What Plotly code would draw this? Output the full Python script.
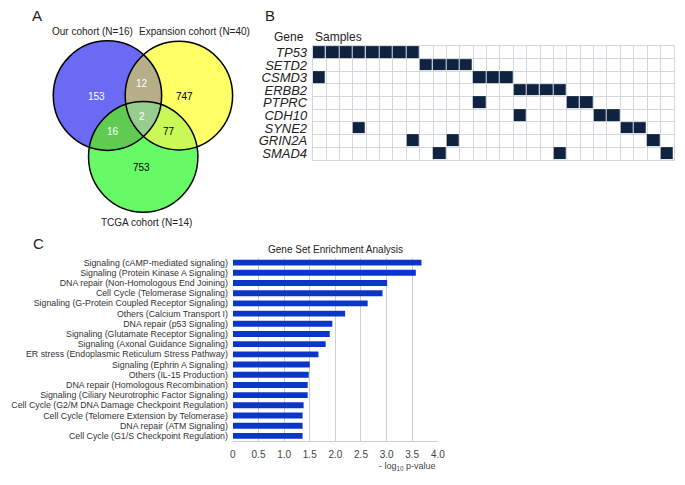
import numpy as np
import plotly.graph_objects as go

# ---------------- data ----------------
venn_labels = ["Our cohort (N=16)", "Expansion cohort (N=40)", "TCGA cohort (N=14)"]
venn_counts = {"A": 153, "B": 747, "C": 753, "AB": 12, "AC": 16, "BC": 77, "ABC": 2}

genes = ["TP53", "SETD2", "CSMD3", "ERBB2", "PTPRC", "CDH10", "SYNE2", "GRIN2A", "SMAD4"]
n_samples = 27
mutated_samples = {
    "TP53": [1, 2, 3, 4, 5, 6, 7, 8],
    "SETD2": [9, 10, 11, 12],
    "CSMD3": [1, 13, 14, 15],
    "ERBB2": [16, 17, 18, 19],
    "PTPRC": [13, 20, 21],
    "CDH10": [16, 22, 23],
    "SYNE2": [4, 24, 25],
    "GRIN2A": [8, 11, 26],
    "SMAD4": [10, 19, 27],
}

pathways = [
    "Signaling (cAMP-mediated signaling)",
    "Signaling (Protein Kinase A Signaling)",
    "DNA repair (Non-Homologous End Joining)",
    "Cell Cycle (Telomerase Signaling)",
    "Signaling (G-Protein Coupled Receptor Signaling)",
    "Others (Calcium Transport I)",
    "DNA repair (p53 Signaling)",
    "Signaling (Glutamate Receptor Signaling)",
    "Signaling (Axonal Guidance Signaling)",
    "ER stress (Endoplasmic Reticulum Stress Pathway)",
    "Signaling (Ephrin A Signaling)",
    "Others (IL-15 Production)",
    "DNA repair (Homologous Recombination)",
    "Signaling (Ciliary Neurotrophic Factor Signaling)",
    "Cell Cycle (G2/M DNA Damage Checkpoint Regulation)",
    "Cell Cycle (Telomere Extension by Telomerase)",
    "DNA repair (ATM Signaling)",
    "Cell Cycle (G1/S Checkpoint Regulation)",
]
neg_log_p = [3.68, 3.57, 3.01, 2.92, 2.63, 2.19, 1.94, 1.89, 1.81, 1.67,
             1.50, 1.48, 1.46, 1.46, 1.38, 1.36, 1.36, 1.36]
x_ticks = [0, 0.5, 1.0, 1.5, 2.0, 2.5, 3.0, 3.5, 4.0]
x_ticktext = ["0", "0.5", "1.0", "1.5", "2.0", "2.5", "3.0", "3.5", "4.0"]

# ---------------- layout constants ----------------
W, H = 685, 485
FONT = "Arial, Liberation Sans, sans-serif"
NAVY = "#0f2341"
GRID = "#d4d8de"
BAR = "#0a36c9"

# Venn circle geometry (pixel canvas)
circ = {
    "A": ((106.0, 95.0), 55.0),
    "B": ((178.5, 95.0), 54.5),
    "C": ((142.3, 156.5), 55.5),
}
region_colors = {
    "A": "#6a6af4", "B": "#ffff66", "C": "#66fa66",
    "AB": "#b5ae88", "AC": "#5fcb50", "BC": "#c9f857", "ABC": "#98cd90",
}
count_pos = {"A": (95, 96), "B": (184, 96), "C": (141, 167), "AB": (141, 83),
             "AC": (112, 131), "BC": (168, 131), "ABC": (141, 116)}
count_col = {"A": "white", "AB": "white", "AC": "white", "ABC": "white",
             "B": "black", "BC": "black", "C": "black"}


def inside(p, key):
    (cx, cy), r = circ[key]
    return (p[0] - cx) ** 2 + (p[1] - cy) ** 2 <= r * r + 1e-6


def region_path(keys):
    pts = []
    t = np.linspace(0, 2 * np.pi, 1440, endpoint=False)
    for k in keys:
        (cx, cy), r = circ[k]
        for a in t:
            p = (cx + r * np.cos(a), cy + r * np.sin(a))
            if all(inside(p, o) for o in keys if o != k):
                pts.append(p)
    pts = np.array(pts)
    m = pts.mean(axis=0)
    ang = np.arctan2(pts[:, 1] - m[1], pts[:, 0] - m[0])
    pts = pts[np.argsort(ang)]
    return "M " + " L ".join(f"{x:.2f},{y:.2f}" for x, y in pts) + " Z"


shapes = []
for keys in [["A"], ["B"], ["C"], ["A", "B"], ["A", "C"], ["B", "C"], ["A", "B", "C"]]:
    shapes.append(dict(type="path", xref="x", yref="y", path=region_path(keys),
                       fillcolor=region_colors["".join(keys)], line=dict(width=0)))
for k, ((cx, cy), r) in circ.items():
    shapes.append(dict(type="circle", xref="x", yref="y", x0=cx - r, x1=cx + r,
                       y0=cy - r, y1=cy + r, line=dict(color="black", width=1.5),
                       fillcolor="rgba(0,0,0,0)"))

annotations = []
for k, v in venn_counts.items():
    x, y = count_pos[k]
    annotations.append(dict(x=x, y=y, xref="x", yref="y", text=str(v), showarrow=False,
                            font=dict(family=FONT, size=10, color=count_col[k])))
for txt, (x, y) in zip(venn_labels, [(91, 31), (194, 31), (146, 222)]):
    annotations.append(dict(x=x, y=y, xref="x", yref="y", text=txt, showarrow=False,
                            font=dict(family=FONT, size=10, color="#222")))
for txt, (x, y) in zip(["A", "B", "C"], [(34, 15), (271, 15), (36, 244)]):
    annotations.append(dict(x=x, y=y, xref="x", yref="y", text=txt, showarrow=False,
                            font=dict(family=FONT, size=15, color="#222")))
annotations.append(dict(x=307, y=36, xref="x", yref="y", text="Gene", showarrow=False,
                        xanchor="right", font=dict(family=FONT, size=12, color="#222")))
annotations.append(dict(x=314.5, y=36, xref="x", yref="y", text="Samples", showarrow=False,
                        xanchor="left", font=dict(family=FONT, size=12, color="#222")))
annotations.append(dict(x=337, y=250, xref="x", yref="y", text="Gene Set Enrichment Analysis",
                        showarrow=False, font=dict(family=FONT, size=10, color="#222")))
annotations.append(dict(x=441, y=467, xref="x", yref="y", xanchor="right",
                        text="- log<sub>10</sub> p-value", showarrow=False,
                        font=dict(family=FONT, size=9, color="#444")))

# ---------------- traces ----------------
fig = go.Figure()
fig.add_trace(go.Scatter(x=[], y=[], xaxis="x", yaxis="y", showlegend=False, hoverinfo="skip"))

z = []
for g in genes:
    row = [None] * n_samples
    for s in mutated_samples[g]:
        row[s - 1] = 1
    z.append(row)
fig.add_trace(go.Heatmap(z=z, x=list(range(n_samples)), y=list(range(len(genes))),
                         xaxis="x2", yaxis="y2", colorscale=[[0, NAVY], [1, NAVY]],
                         showscale=False, xgap=1, ygap=1, hoverinfo="skip"))

fig.add_trace(go.Bar(x=neg_log_p, y=pathways, orientation="h", xaxis="x3", yaxis="y3",
                     marker=dict(color=BAR, line=dict(width=0)), showlegend=False))


def px_dom_x(a, b):
    return [a / W, b / W]


def px_dom_y(top, bottom):
    return [1 - bottom / H, 1 - top / H]


hidden = dict(visible=False, showgrid=False, zeroline=False)
fig.update_layout(
    width=W, height=H, margin=dict(l=0, r=0, t=0, b=0),
    paper_bgcolor="white", plot_bgcolor="white", showlegend=False,
    font=dict(family=FONT, color="#222"),
    xaxis=dict(domain=[0, 1], range=[0, W], anchor="y", **hidden),
    yaxis=dict(domain=[0, 1], range=[H, 0], anchor="x", **hidden),
    xaxis2=dict(domain=px_dom_x(314.3, 680.7), range=[-0.5, n_samples - 0.5], anchor="y2",
                showticklabels=False, ticks="", showgrid=False, zeroline=False,
                minor=dict(tick0=0.5, dtick=1, showgrid=True, gridcolor=GRID, gridwidth=1),
                showline=True, mirror=True, linecolor=GRID, linewidth=1),
    yaxis2=dict(domain=px_dom_y(45.3, 159.3), range=[len(genes) - 0.5, -0.5], anchor="x2",
                tickmode="array", tickvals=list(range(len(genes))), ticktext=genes,
                tickfont=dict(family=FONT, size=13, color="#222", style="italic"),
                ticks="", ticklabelstandoff=2, showgrid=False, zeroline=False,
                minor=dict(tick0=0.5, dtick=1, showgrid=True, gridcolor=GRID, gridwidth=1),
                showline=True, mirror=True, linecolor=GRID, linewidth=1),
    xaxis3=dict(domain=px_dom_x(233.3, 441.3), range=[0, 4], anchor="y3",
                tickmode="array", tickvals=x_ticks, ticktext=x_ticktext,
                tickfont=dict(family=FONT, size=10, color="#444"),
                showgrid=True, gridcolor="#cfcfcf", gridwidth=1, zeroline=False,
                showline=True, linecolor="#cfcfcf", ticks="", ticklabelstandoff=4),
    yaxis3=dict(domain=px_dom_y(257.6, 441.8), anchor="x3", autorange="reversed",
                type="category", tickmode="array", tickvals=pathways, ticktext=pathways,
                tickfont=dict(family=FONT, size=8.8, color="#333"),
                ticks="", ticklabelstandoff=4, showgrid=False, zeroline=False),
    bargap=0.42,
    shapes=shapes, annotations=annotations,
)

fig.write_html("out.html", config={"displayModeBar": False},
               post_script="document.body.style.margin='0';")
